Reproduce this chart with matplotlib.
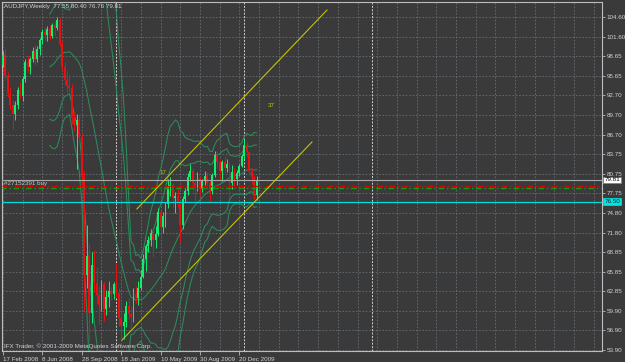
import matplotlib
matplotlib.use('Agg')
import matplotlib.pyplot as plt
import matplotlib.transforms as mtransforms
import numpy as np
import pandas as pd

plt.rcParams['font.family'] = ['Liberation Sans', 'DejaVu Sans']

# ---- data (weekly AUDJPY, 17 Feb 2008 .. 7 Feb 2010) ----
opens = [97.3, 98.9, 95.6, 92.9, 91.2, 89.8, 91.3, 93.5, 92.6, 95.2,
         97.8, 97.0, 98.2, 99.5, 98.2, 99.7, 101.2, 102.4, 101.9, 102.8,
         101.8, 103.4, 102.9, 104.2, 100.6, 97.1, 95.0, 94.1, 93.8, 89.2,
         88.2, 88.9, 86.4, 80.3, 65.4, 68.3, 59.5, 66.8, 64.1, 62.3,
         60.7, 63.9, 60.2, 62.0, 62.9, 62.4, 63.9, 62.6, 58.8, 57.6,
         58.2, 60.6, 59.4, 58.9, 62.5, 61.8, 63.4, 65.0, 67.8, 69.7,
         70.6, 71.7, 70.6, 71.6, 74.9, 72.6, 74.3, 76.2, 78.7, 79.0,
         77.1, 77.3, 76.3, 72.9, 76.9, 78.1, 80.3, 81.2, 79.3, 78.9,
         80.1, 78.4, 79.6, 80.4, 79.3, 78.1, 80.6, 83.6, 82.6, 81.2,
         82.5, 81.6, 82.3, 79.3, 81.1, 79.9, 80.9, 82.0, 83.4, 85.2,
         84.0, 81.2, 80.2, 77.55]
highs = [99.4, 99.8, 96.2, 94.0, 92.0, 91.8, 94.0, 94.8, 95.6, 98.3,
         98.8, 98.6, 100.0, 100.4, 100.2, 101.5, 102.8, 103.1, 103.2, 103.5,
         103.8, 104.0, 104.6, 104.5, 101.0, 97.8, 96.5, 95.8, 94.4, 90.2,
         89.9, 89.6, 87.0, 81.2, 73.0, 70.0, 68.9, 69.2, 66.5, 63.6,
         64.5, 64.3, 63.1, 64.4, 63.5, 64.3, 67.2, 63.4, 61.0, 59.5,
         61.4, 61.9, 60.6, 63.4, 63.7, 64.4, 66.1, 68.6, 70.0, 71.3,
         72.4, 72.2, 72.8, 75.6, 75.0, 75.0, 76.5, 80.0, 80.3, 79.4,
         78.0, 78.8, 76.6, 77.4, 78.6, 80.8, 82.2, 81.6, 79.6, 81.1,
         80.4, 80.0, 81.2, 81.0, 79.8, 80.8, 84.3, 84.2, 83.0, 82.9,
         83.5, 83.0, 82.6, 82.1, 81.6, 81.3, 82.3, 83.7, 86.0, 85.6,
         84.3, 81.6, 80.6, 80.40]
lows = [97.0, 95.2, 92.4, 90.6, 87.6, 88.9, 90.6, 92.1, 91.9, 94.8,
        96.2, 96.0, 97.8, 97.4, 97.8, 98.8, 100.6, 101.2, 101.0, 101.1,
        101.4, 101.8, 102.6, 100.2, 96.6, 94.3, 93.2, 93.0, 88.4, 87.2,
        81.5, 85.6, 79.0, 59.8, 63.4, 55.1, 58.0, 62.8, 61.0, 57.9,
        59.9, 58.3, 59.2, 60.4, 61.5, 61.7, 62.0, 57.6, 56.0, 55.6,
        57.4, 58.6, 57.3, 58.1, 61.0, 60.8, 63.0, 64.8, 66.0, 68.9,
        69.7, 68.0, 69.5, 71.2, 70.8, 71.8, 72.6, 75.6, 77.4, 75.5,
        74.8, 75.6, 70.3, 72.4, 76.5, 77.5, 79.6, 78.3, 76.6, 78.2,
        77.3, 78.0, 79.1, 78.4, 76.6, 77.6, 80.3, 81.7, 79.8, 79.6,
        81.0, 81.0, 77.2, 78.5, 78.9, 79.0, 80.4, 81.8, 83.0, 83.3,
        80.6, 79.2, 76.9, 76.76]
closes = [98.9, 95.6, 92.9, 91.2, 89.8, 91.3, 93.5, 92.6, 95.2, 97.8,
          97.0, 98.2, 99.5, 98.2, 99.7, 101.2, 102.4, 101.9, 102.8, 101.8,
          103.4, 102.9, 104.2, 100.6, 97.1, 95.0, 94.1, 93.8, 89.2, 88.2,
          88.9, 86.4, 80.3, 65.4, 68.3, 59.5, 66.8, 64.1, 62.3, 60.7,
          63.9, 60.2, 62.0, 62.9, 62.4, 63.9, 62.6, 58.8, 57.6, 58.2,
          60.6, 59.4, 58.9, 62.5, 61.8, 63.4, 65.0, 67.8, 69.7, 70.6,
          71.7, 70.6, 71.6, 74.9, 72.6, 74.3, 76.2, 78.7, 79.0, 77.1,
          77.3, 76.3, 72.9, 76.9, 78.1, 80.3, 81.2, 79.3, 78.9, 80.1,
          78.4, 79.6, 80.4, 79.3, 78.1, 80.6, 83.6, 82.6, 81.2, 82.5,
          81.6, 82.3, 79.3, 81.1, 79.9, 80.9, 82.0, 83.4, 85.2, 84.0,
          81.2, 80.2, 77.6, 79.81]

date_label_bars = [0, 16, 32, 48, 64, 80, 96]
date_labels = ["17 Feb 2008", "8 Jun 2008", "28 Sep 2008", "18 Jan 2009",
               "10 May 2009", "30 Aug 2009", "20 Dec 2009"]
year_sep_bars = [46, 98, 150]
price_ticks = [104.60, 101.60, 98.65, 95.65, 92.70, 89.70, 86.70, 83.75, 80.75,
               77.75, 74.80, 71.80, 68.85, 65.85, 62.85, 59.90, 56.90, 53.90]

bid_price = 79.81
order_price = 78.88
order_price2 = 78.52
alert_price = 76.50

chan_upper_bar = [54.4, 131.6]
chan_upper_price = [75.4, 105.7]
chan_lower_bar = [48.3, 125.5]
chan_lower_price = [55.4, 85.6]
chan_labels = ["17", "37"]
chan_label_bar = [65.0, 108.9]
chan_label_price = [81.0, 91.2]

title_text = "AUDJPY,Weekly  77.55 80.40 76.76 79.81"
order_text = "#27152391 buy"
copyright_text = "IFX Trader, \u00a9 2001-2009 MetaQuotes Software Corp."

# ---- style ----
BG = '#3a3a3a'
FG = '#d2d2d2'
BULL = '#10f070'
BEAR = '#e81010'
BBC = '#2c8c5c'
YEL = '#c4c400'
FS = 4.5

fig = plt.figure(figsize=(6.25, 3.62), dpi=100, facecolor=BG)
ax = fig.add_axes([2/625, 11/362, 600/625, 349/362])
ax.set_facecolor(BG)
ax.set_xlim(-0.4, 243.3)
ax.set_ylim(53.75, 106.93)

# grid
ax.set_xticks(np.arange(0, 244, 8), minor=True)
ax.set_xticks(date_label_bars)
ax.set_xticklabels(date_labels, ha='left')
ax.yaxis.tick_right()
ax.set_yticks(price_ticks)
ax.set_yticklabels([f'{v:.2f}' for v in price_ticks])
ax.grid(which='both', axis='x', color='#676e76', ls=(0, (2, 2)), lw=0.6)
ax.grid(which='major', axis='y', color='#676e76', ls=(0, (2, 2)), lw=0.6)
ax.tick_params(axis='x', which='major', length=3, width=0.6, colors='#b8b8b8',
               labelcolor=FG, labelsize=FS, pad=1)
ax.tick_params(axis='x', which='minor', length=0)
ax.tick_params(axis='y', length=2, width=0.6, colors='#b8b8b8',
               labelcolor=FG, labelsize=FS, pad=1.5)
ax.set_axisbelow(True)
for s in ax.spines.values():
    s.set_color('#bdbdbd')
    s.set_linewidth(0.8)

for b in year_sep_bars:
    ax.axvline(b, color='#d2d2d2', ls=(0, (2, 1.5)), lw=0.7, zorder=1)

# Bollinger bands (20,2) and (20,3)
cs = pd.Series(closes)
mid = cs.rolling(20).mean()
sd = cs.rolling(20).std(ddof=0)
x = np.arange(len(closes))
for line in [mid, mid + 2 * sd, mid - 2 * sd, mid + 3 * sd, mid - 3 * sd]:
    ax.plot(x, line, color=BBC, lw=0.75, zorder=2)

# candles
for i, (o, h, l, c) in enumerate(zip(opens, highs, lows, closes)):
    col = BULL if c >= o else BEAR
    ax.vlines(i, l, h, color=col, lw=0.7, zorder=3)
    body = max(abs(c - o), 0.12)
    ax.bar(i, body, bottom=min(o, c), width=0.78, color=col, lw=0, zorder=3)

# horizontal lines
ax.axhline(bid_price, color='#a8a8a8', lw=0.8, zorder=4)
ax.axhline(order_price, color='#e00000', ls=(0, (4, 2, 1, 2)), lw=1.0, zorder=4)
ax.axhline(order_price2, color='#129a12', ls=(1, (4, 2, 1, 2)), lw=1.0, zorder=4)
ax.axhline(alert_price, color='#00dede', lw=0.9, zorder=4)

# channel
ax.plot(chan_upper_bar, chan_upper_price, color=YEL, lw=0.8, zorder=5)
ax.plot(chan_lower_bar, chan_lower_price, color=YEL, lw=0.8, zorder=5)
for t, b, p in zip(chan_labels, chan_label_bar, chan_label_price):
    ax.text(b, p, t, color=YEL, fontsize=FS, ha='center', va='center', zorder=6)

# texts
ax.text(0.0035, 0.9885, title_text, transform=ax.transAxes, color=FG,
        fontsize=FS, ha='left', va='center')
bt = mtransforms.blended_transform_factory(ax.transAxes, ax.transData)
ax.text(2.5 / 600, 79.30, order_text, color='#c4c4c4', fontsize=FS,
        ha='left', va='center', transform=bt, zorder=6)
ax.text(0.003, 0.0145, copyright_text, transform=ax.transAxes, color=FG,
        fontsize=FS, ha='left', va='center')

ax.text(1.004, bid_price, f'{bid_price:.2f}', transform=bt, color='black', fontsize=FS,
        ha='left', va='center', zorder=10,
        bbox=dict(boxstyle='square,pad=0.15', fc='white', ec='#808080', lw=0.5))
ax.text(1.004, alert_price, f'{alert_price:.2f}', transform=bt, color='#1a1a1a', fontsize=FS,
        ha='left', va='center', zorder=10,
        bbox=dict(boxstyle='square,pad=0.15', fc='#00e4e4', ec='#00e4e4', lw=0.5))

fig.savefig('out.png', dpi=100, facecolor=BG)
